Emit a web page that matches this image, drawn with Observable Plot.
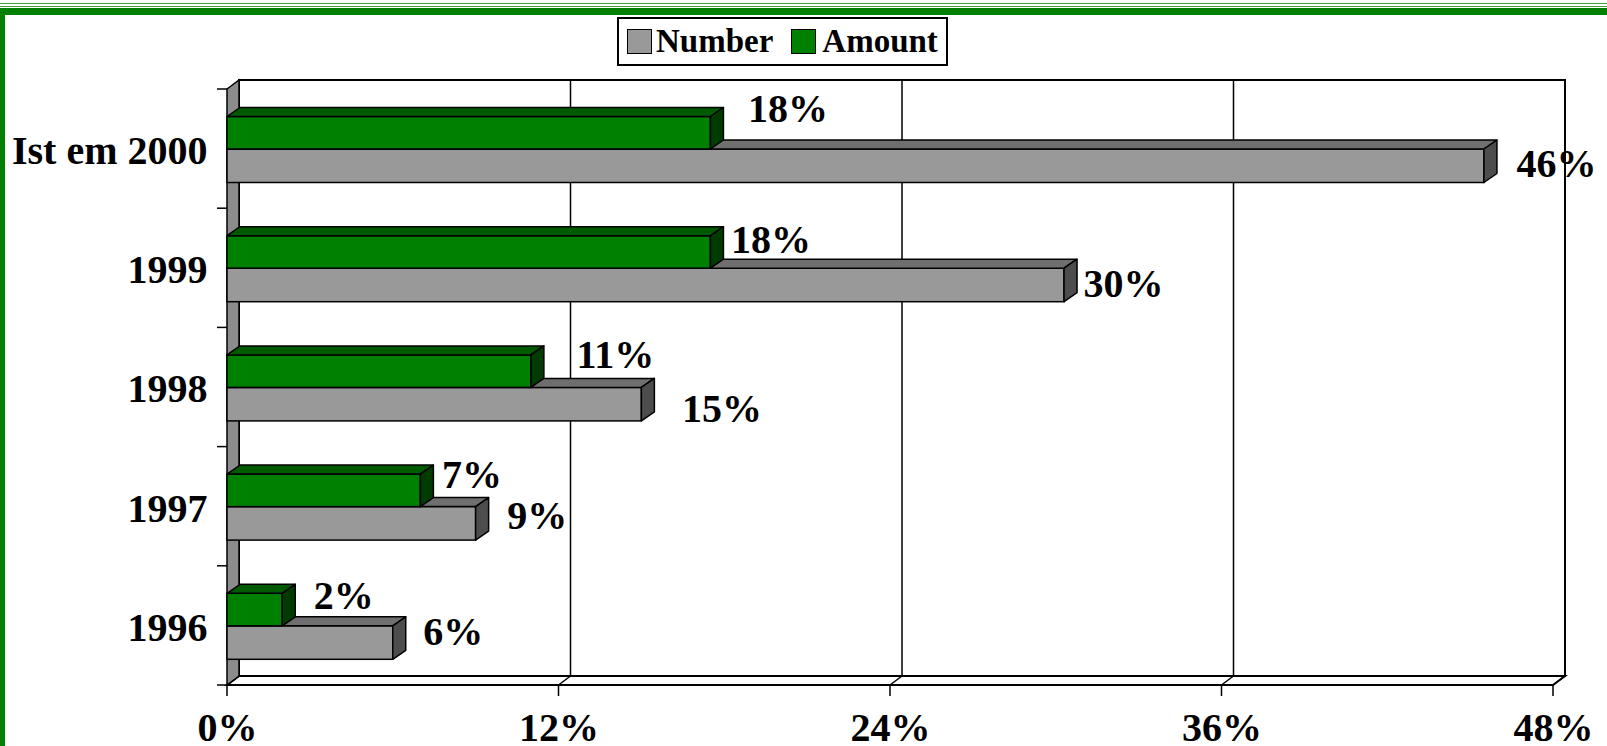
<!DOCTYPE html>
<html><head><meta charset="utf-8">
<script src="https://cdn.jsdelivr.net/npm/d3@7"></script>
<script src="https://cdn.jsdelivr.net/npm/@observablehq/plot@0.6"></script>
<style>
html,body{margin:0;padding:0;background:#fff;}
#wrap{position:relative;width:1607px;height:746px;overflow:hidden;font-family:"Liberation Serif","Times New Roman",serif;font-weight:bold;}
#chart{position:absolute;left:0;top:0;}
.gl{position:absolute;background:#008000;}
#legend{position:absolute;left:617px;top:17px;width:331px;height:49px;box-sizing:border-box;border:2px solid #000;background:#fff;display:flex;align-items:center;font-size:33px;line-height:1;padding-left:8px;}
.sw{width:25px;height:25px;box-sizing:border-box;border:1.5px solid #000;flex:none;}
.lt{flex:none;}
</style></head>
<body>
<div id="wrap">
  <div id="chart"></div>
  <div class="gl" style="left:0;top:3px;width:1607px;height:1px;opacity:.75"></div>
  <div class="gl" style="left:0;top:6px;width:1607px;height:1px;opacity:.75"></div>
  <div class="gl" style="left:0;top:8px;width:1607px;height:7px;"></div>
  <div class="gl" style="left:0;top:8px;width:5px;height:738px;"></div>
  <div id="legend"></div>
</div>
<script>
// ---- data ----
const years = ["1996", "1997", "1998", "1999", "Ist em 2000"];
const numberPct = [6, 9, 15, 30.3, 45.5];
const amountPct = [2, 7, 11, 17.5, 17.5];
const xTicks = [0, 12, 24, 36, 48];
const seriesNames = ["Number", "Amount"];
const seriesColors = ["#999999", "#008000"];
// per-label nudges [dx, dy] (Excel's outside-end placement)
const numberLabelNudge = [[30, 19], [31, 22], [40, 34], [19, 29], [32, 28]];
const amountLabelNudge = [[31, -17], [21, -19], [45, -20], [20, -15], [37, -27]];

// ---- layout ----
const W = 1607, H = 746, mt = 89, mb = 61, ml = 227, mr = 54;
const bw = (H - mt - mb) / years.length;
const A_TOP = 27.5, SPLIT = 60, N_BOT = 93.5;
const WDX = 12, WDY = 9, BDX = 13, BDY = 9;

const rows = years.map((y, i) => ({year: y, number: numberPct[i], amount: amountPct[i], i}));

function walls(index, scales, values, dims) {
  const x = scales.x;
  const y0 = dims.marginTop, y1 = dims.height - dims.marginBottom;
  const X0 = x(xTicks[0]), X1 = x(xTicks[xTicks.length - 1]);
  const g = d3.create("svg:g").attr("stroke", "#000").attr("stroke-width", 1.5).attr("fill", "none");
  g.append("rect").attr("x", X0 + WDX).attr("y", y0 - WDY).attr("width", X1 - X0).attr("height", y1 - y0)
    .attr("fill", "#fff").attr("stroke-width", 2);
  for (const t of xTicks.slice(1, -1)) {
    g.append("line").attr("x1", x(t) + WDX).attr("x2", x(t) + WDX).attr("y1", y0 - WDY).attr("y2", y1 - WDY);
  }
  g.append("path").attr("d", `M${X0},${y1}L${X1},${y1}L${X1 + WDX},${y1 - WDY}L${X0 + WDX},${y1 - WDY}Z`)
    .attr("fill", "#fff").attr("stroke-width", 2);
  for (const t of xTicks) {
    g.append("line").attr("x1", x(t)).attr("x2", x(t) + WDX).attr("y1", y1).attr("y2", y1 - WDY);
    g.append("line").attr("x1", x(t)).attr("x2", x(t)).attr("y1", y1).attr("y2", y1 + 11);
  }
  g.append("path").attr("d", `M${X0},${y0}L${X0 + WDX},${y0 - WDY}L${X0 + WDX},${y1 - WDY}L${X0},${y1}Z`)
    .attr("fill", "#8c8c8c");
  const edges = years.map(c => scales.y(c)).concat([y1]);
  for (const yy of edges) {
    g.append("line").attr("x1", X0 - 10).attr("x2", X0).attr("y1", yy).attr("y2", yy);
  }
  return g.node();
}

function barFaces(key, top, bottom, topFill, sideFill) {
  return (index, scales) => {
    const g = d3.create("svg:g").attr("stroke", "#000").attr("stroke-width", 1.5).attr("stroke-linejoin", "round");
    for (const r of rows) {
      const x0 = scales.x(0), x1 = scales.x(r[key]);
      const bt = scales.y(r.year) + top, bb = scales.y(r.year) + bottom;
      g.append("path").attr("d", `M${x0},${bt}L${x0 + BDX},${bt - BDY}L${x1 + BDX},${bt - BDY}L${x1},${bt}Z`).attr("fill", topFill);
      g.append("path").attr("d", `M${x1},${bt}L${x1 + BDX},${bt - BDY}L${x1 + BDX},${bb - BDY}L${x1},${bb}Z`).attr("fill", sideFill);
    }
    return g.node();
  };
}

const labelMarks = [];
rows.forEach(r => {
  labelMarks.push(Plot.text([r], {x: "number", y: "year", text: d => Math.round(d.number) + "%",
    textAnchor: "start", lineAnchor: "bottom", dx: numberLabelNudge[r.i][0], dy: numberLabelNudge[r.i][1], fontSize: 40}));
  labelMarks.push(Plot.text([r], {x: "amount", y: "year", text: d => Math.round(d.amount) + "%",
    textAnchor: "start", lineAnchor: "bottom", dx: amountLabelNudge[r.i][0], dy: amountLabelNudge[r.i][1], fontSize: 40}));
});

const chart = Plot.plot({
  width: W, height: H,
  marginTop: mt, marginBottom: mb, marginLeft: ml, marginRight: mr,
  style: {fontFamily: "'Liberation Serif', 'Times New Roman', serif", fontWeight: "bold", fontSize: "40px", background: "transparent", overflow: "visible", color: "#000"},
  x: {domain: [xTicks[0], xTicks[xTicks.length - 1]], axis: null},
  y: {domain: years.slice().reverse(), padding: 0, round: false, axis: null},
  marks: [
    walls,
    Plot.barX(rows, {x: "number", y: "year", fill: seriesColors[0], stroke: "#000", strokeWidth: 1.5,
      insetTop: SPLIT, insetBottom: bw - N_BOT}),
    barFaces("number", SPLIT, N_BOT, "#6f6f6f", "#4d4d4d"),
    Plot.barX(rows, {x: "amount", y: "year", fill: seriesColors[1], stroke: "#000", strokeWidth: 1.5,
      insetTop: A_TOP, insetBottom: bw - SPLIT}),
    barFaces("amount", A_TOP, SPLIT, "#005a00", "#003c00"),
    ...labelMarks,
    Plot.axisX({ticks: xTicks, tickFormat: d => d + "%", tickSize: 0, tickPadding: 26.6, label: null, fontSize: 40}),
    Plot.axisY({tickSize: 0, tickPadding: 20, label: null, fontSize: 40, dy: 2})
  ]
});
document.getElementById("chart").appendChild(chart);

// legend
const leg = document.getElementById("legend");
seriesNames.forEach((name, i) => {
  const sw = document.createElement("div");
  sw.className = "sw";
  sw.style.background = seriesColors[i];
  sw.style.marginLeft = i === 0 ? "0px" : "18px";
  const t = document.createElement("div");
  t.className = "lt";
  t.textContent = name;
  t.style.marginLeft = i === 0 ? "4px" : "6px";
  leg.appendChild(sw);
  leg.appendChild(t);
});
</script>
</body></html>
